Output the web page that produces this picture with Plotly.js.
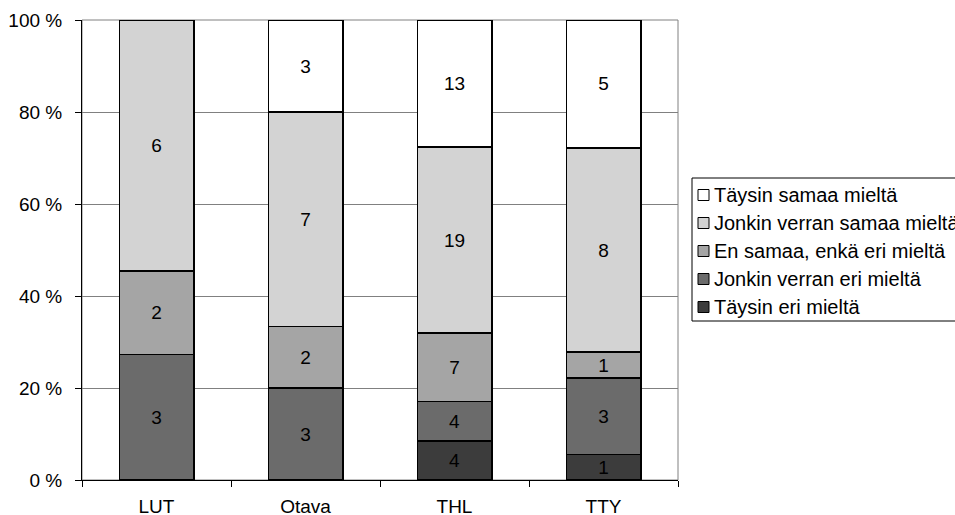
<!DOCTYPE html>
<html>
<head>
<meta charset="utf-8">
<script src="https://cdn.plot.ly/plotly-3.0.1.min.js"></script>
<style>html,body{margin:0;padding:0;background:#fff;}#chart{width:955px;height:515px;}</style>
</head>
<body>
<div id="chart"></div>
<script>
var categories = ["LUT", "Otava", "THL", "TTY"];
var seriesNames = ["Täysin eri mieltä", "Jonkin verran eri mieltä", "En samaa, enkä eri mieltä", "Jonkin verran samaa mieltä", "Täysin samaa mieltä"];
var taysinEri = [0, 0, 4, 1];
var jonkinEri = [3, 3, 4, 3];
var enSamaa = [2, 2, 7, 1];
var jonkinSamaa = [6, 7, 19, 8];
var taysinSamaa = [0, 3, 13, 5];
var yTickVals = [0, 20, 40, 60, 80, 100];
var yTickText = ["0 %", "20 %", "40 %", "60 %", "80 %", "100 %"];

var seriesValues = [taysinEri, jonkinEri, enSamaa, jonkinSamaa, taysinSamaa];
var colors = ["#3c3c3c", "#6b6b6b", "#a5a5a5", "#d3d3d3", "#ffffff"];
var font = "Liberation Sans, Arial, sans-serif";
var FS = 19;

var traces = seriesValues.map(function (vals, i) {
  return {
    type: "bar",
    name: seriesNames[i],
    x: categories,
    y: vals,
    text: vals.map(function (v) { return v ? String(v) : ""; }),
    textposition: "inside",
    insidetextanchor: "middle",
    textangle: 0,
    constraintext: "none",
    textfont: {family: font, size: FS, color: "#000"},
    marker: {color: colors[i], line: {color: "#000", width: 1.5}},
    hoverinfo: "none"
  };
});

// plot area in pixels
var L = 82, R = 678, T = 20, B = 480;
function px(x) { return (x - L) / (R - L); }
function py(y) { return (B - y) / (B - T); }

var shapes = [
  {type: "rect", xref: "paper", yref: "paper", x0: 0, x1: 1, y0: 0, y1: 1, line: {color: "#808080", width: 1}, layer: "below"},
  {type: "rect", xref: "paper", yref: "paper", x0: px(692), x1: px(990), y0: py(178), y1: py(321), line: {color: "#000", width: 1}, fillcolor: "rgba(0,0,0,0)"}
];
var annotations = [];
var legendOrder = [4, 3, 2, 1, 0];
var legendY = [195, 223, 251, 279, 307];
legendOrder.forEach(function (si, k) {
  var yc = legendY[k];
  shapes.push({type: "rect", xref: "paper", yref: "paper", x0: px(698), x1: px(709), y0: py(yc - 5.5), y1: py(yc + 5.5), line: {color: "#000", width: 1}, fillcolor: colors[si]});
  annotations.push({xref: "paper", yref: "paper", x: px(712), y: py(yc), xanchor: "left", yanchor: "middle", text: seriesNames[si], showarrow: false, font: {family: font, size: 20, color: "#000"}});
});

var layout = {
  width: 955, height: 515,
  margin: {l: L, r: 955 - R, t: T, b: 515 - B, pad: 0, autoexpand: false},
  paper_bgcolor: "#fff", plot_bgcolor: "#fff",
  barmode: "stack", barnorm: "percent", bargap: 0.5,
  showlegend: false,
  font: {family: font, size: FS, color: "#000"},
  xaxis: {
    type: "category", showgrid: false, showline: true, linecolor: "#000", linewidth: 1,
    ticks: "outside", tickson: "boundaries", ticklen: 6, tickcolor: "#000",
    tickfont: {family: font, size: FS, color: "#000"}, ticklabelstandoff: 9
  },
  yaxis: {
    range: [0, 100], tickvals: yTickVals, ticktext: yTickText,
    showgrid: true, gridcolor: "#808080", gridwidth: 1,
    showline: true, linecolor: "#000", linewidth: 1,
    ticks: "outside", ticklen: 6, tickcolor: "#000",
    tickfont: {family: font, size: FS, color: "#000"}, ticklabelstandoff: 9,
    zeroline: false
  },
  shapes: shapes,
  annotations: annotations
};

Plotly.newPlot("chart", traces, layout, {staticPlot: true, displayModeBar: false});
</script>
</body>
</html>
